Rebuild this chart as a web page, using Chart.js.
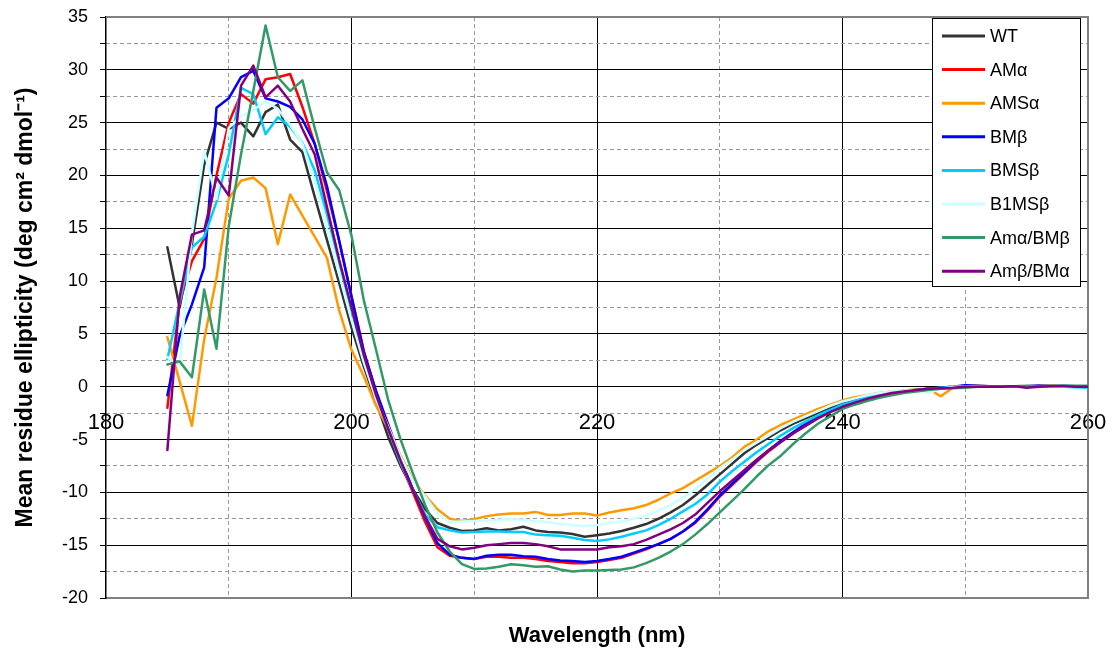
<!DOCTYPE html>
<html>
<head>
<meta charset="utf-8">
<script src="https://cdn.jsdelivr.net/npm/chart.js@4.4.1/dist/chart.umd.min.js"></script>
<style>
  html, body { margin: 0; padding: 0; background: #fff; }
  #wrap { width: 1115px; height: 655px; }
</style>
</head>
<body>
<div id="wrap"><canvas id="cdChart"></canvas></div>
<script>
const wavelength = [185, 186, 187, 188, 189, 190, 191, 192, 193, 194, 195, 196, 197, 198, 199, 200,
  201, 202, 203, 204, 205, 206, 207, 208, 209, 210, 211, 212, 213, 214, 215, 216, 217, 218, 219, 220,
  221, 222, 223, 224, 225, 226, 227, 228, 229, 230, 231, 232, 233, 234, 235, 236, 237, 238, 239, 240,
  241, 242, 243, 244, 245, 246, 247, 248, 249, 250, 251, 252, 253, 254, 255, 256, 257, 258, 259, 260];

const wt = [13.2, 7.5, 13.5, 21.0, 25.0, 24.4, 25.0, 23.7, 26.0, 26.7, 23.4, 22.2, 18.0, 13.9, 9.8, 5.6,
  1.9, -1.4, -4.8, -7.5, -9.7, -11.6, -12.9, -13.35, -13.65, -13.6, -13.4, -13.6, -13.5, -13.25, -13.6, -13.75, -13.8, -13.95, -14.2, -14.05,
  -13.9, -13.65, -13.35, -13.0, -12.5, -11.9, -11.2, -10.3, -9.3, -8.3, -7.3, -6.3, -5.5, -4.8, -4.1, -3.5, -3.0, -2.5, -2.0, -1.6,
  -1.3, -1.0, -0.75, -0.55, -0.4, -0.3, -0.2, -0.15, -0.1, 0.0, 0.05, 0.0, 0.05, 0.0, 0.05, 0.1, 0.05, 0.05, 0.0, 0.0];

const amAlpha = [-2.0, 8.0, 11.9, 14.0, 20.0, 25.0, 27.7, 26.8, 29.1, 29.3, 29.6, 26.5, 23.0, 18.5, 13.8, 8.6,
  3.4, -0.5, -4.0, -7.2, -10.0, -12.8, -15.2, -16.0, -16.2, -16.3, -16.1, -16.1, -16.2, -16.2, -16.3, -16.5, -16.6, -16.7, -16.7, -16.6,
  -16.4, -16.2, -15.8, -15.4, -14.9, -14.4, -13.7, -12.9, -11.7, -10.4, -9.3, -8.2, -7.1, -6.1, -5.2, -4.4, -3.6, -2.9, -2.3, -1.8,
  -1.4, -1.1, -0.8, -0.6, -0.4, -0.3, -0.2, -0.1, 0.0, 0.1, 0.05, 0.05, 0.0, 0.05, 0.0, 0.05, 0.1, 0.05, 0.0, 0.0];

const amsAlpha = [4.7, 0.5, -3.7, 4.5, 10.3, 17.8, 19.5, 19.8, 18.8, 13.5, 18.2, 16.2, 14.2, 12.2, 7.2, 3.5,
  1.0, -1.8, -4.0, -6.5, -8.8, -10.3, -11.6, -12.5, -12.7, -12.55, -12.25, -12.1, -12.0, -12.0, -11.85, -12.15, -12.15, -12.0, -12.0, -12.2,
  -11.9, -11.7, -11.5, -11.2, -10.7, -10.1, -9.6, -8.9, -8.2, -7.5, -6.7, -5.7, -5.0, -4.2, -3.6, -3.1, -2.6, -2.1, -1.7, -1.3,
  -1.0, -0.8, -0.6, -0.45, -0.35, -0.25, -0.2, -0.9, -0.1, 0.1, 0.1, 0.05, 0.0, 0.05, 0.05, 0.0, 0.05, 0.0, 0.0, 0.0];

const bmBeta = [-0.8, 4.8, 7.8, 11.3, 26.4, 27.3, 29.3, 29.9, 27.3, 27.0, 26.5, 25.3, 23.0, 19.0, 13.8, 8.5,
  3.3, -0.4, -3.6, -6.8, -9.7, -12.4, -14.8, -15.9, -16.2, -16.3, -16.0, -15.9, -15.9, -16.05, -16.1, -16.3, -16.45, -16.5, -16.6, -16.5,
  -16.3, -16.1, -15.7, -15.3, -14.9, -14.4, -13.7, -12.8, -11.6, -10.3, -9.2, -8.1, -7.0, -6.0, -5.1, -4.3, -3.5, -2.8, -2.2, -1.75,
  -1.35, -1.05, -0.8, -0.55, -0.4, -0.3, -0.2, -0.1, 0.0, 0.15, 0.1, 0.05, 0.05, 0.0, 0.05, 0.1, 0.05, 0.1, 0.05, 0.0];

const bmsBeta = [2.6, 8.0, 13.2, 14.2, 17.5, 22.0, 28.3, 27.7, 23.9, 25.5, 24.6, 23.1, 20.5, 16.3, 11.8, 7.2,
  2.8, -0.9, -4.0, -7.2, -9.8, -12.1, -13.3, -13.6, -13.8, -13.75, -13.7, -13.7, -13.75, -13.75, -14.0, -14.05, -14.1, -14.3, -14.5, -14.6,
  -14.45, -14.2, -13.9, -13.6, -13.1, -12.5, -11.8, -11.1, -10.2, -9.0, -8.0, -7.1, -6.2, -5.4, -4.6, -3.9, -3.3, -2.7, -2.2, -1.7,
  -1.35, -1.05, -0.75, -0.55, -0.4, -0.3, -0.2, -0.1, -0.05, 0.0, 0.05, 0.0, 0.05, 0.0, 0.0, 0.05, 0.0, 0.0, -0.05, -0.1];

const b1msBeta = [2.8, 2.0, 14.5, 22.3, 17.8, 24.5, 25.6, 26.2, 27.0, 26.3, 24.8, 23.0, 19.5, 15.0, 10.6, 6.3,
  2.3, -1.2, -3.8, -6.6, -8.9, -10.4, -12.0, -12.8, -12.75, -12.7, -12.7, -12.6, -12.55, -12.6, -12.7, -12.8, -13.0, -13.1, -13.2, -13.1,
  -12.9, -12.75, -12.5, -12.2, -11.7, -11.2, -10.5, -9.7, -8.7, -7.7, -6.9, -6.0, -5.3, -4.6, -3.9, -3.3, -2.8, -2.3, -1.8, -1.4,
  -1.1, -0.8, -0.6, -0.45, -0.35, -0.3, -0.6, -0.2, 0.0, 0.0, 0.05, 0.0, 0.0, 0.05, 0.0, 0.0, 0.05, 0.0, 0.0, 0.0];

const amAlphaBmBeta = [2.1, 2.4, 0.9, 9.2, 3.6, 15.2, 22.0, 28.0, 34.2, 29.3, 28.0, 29.0, 24.5, 20.3, 18.6, 14.3,
  8.2, 3.5, -1.3, -5.0, -8.2, -11.2, -13.8, -15.6, -16.8, -17.25, -17.2, -17.05, -16.8, -16.9, -17.05, -17.0, -17.3, -17.5, -17.4, -17.4,
  -17.35, -17.3, -17.1, -16.7, -16.2, -15.6, -14.9, -14.0, -13.0, -11.9, -10.8, -9.7, -8.5, -7.4, -6.5, -5.4, -4.4, -3.5, -2.8, -2.1,
  -1.7, -1.35, -1.05, -0.8, -0.6, -0.45, -0.3, -0.2, -0.15, -0.1, 0.0, 0.05, 0.05, 0.05, 0.1, 0.05, 0.1, 0.1, 0.1, 0.1];

const amBetaBmAlpha = [-6.0, 8.5, 14.4, 14.8, 19.8, 18.1, 28.5, 30.4, 27.4, 28.5, 27.0, 24.4, 22.0, 17.0, 12.0, 7.5,
  3.0, -0.8, -4.0, -7.0, -9.8, -12.3, -14.4, -15.1, -15.4, -15.25, -15.0, -14.9, -14.8, -14.8, -14.9, -15.1, -15.4, -15.4, -15.4, -15.4,
  -15.2, -15.1, -14.9, -14.5, -14.0, -13.5, -12.9, -12.1, -11.0, -9.9, -8.9, -7.9, -6.9, -6.0, -5.2, -4.4, -3.7, -3.0, -2.4, -1.9,
  -1.5, -1.15, -0.85, -0.6, -0.45, -0.3, -0.2, -0.15, -0.1, 0.0, 0.0, 0.0, 0.0, 0.05, -0.1, 0.0, 0.05, 0.05, 0.0, 0.0];

const seriesNames = ['WT', 'AMα', 'AMSα', 'BMβ', 'BMSβ', 'B1MSβ', 'Amα/BMβ', 'Amβ/BMα'];
const seriesValues = [wt, amAlpha, amsAlpha, bmBeta, bmsBeta, b1msBeta, amAlphaBmBeta, amBetaBmAlpha];
const seriesColors = ['#333333', '#ff0000', '#ff9900', '#0000ff', '#00ccff', '#ccffff', '#339966', '#800080'];

const xMajorTicks = [180, 200, 220, 240, 260];
const yMin = -20, yMax = 35;

const FONT = "'Liberation Sans', Arial, sans-serif";

// legend box drawn inside the plot, plus the grey top edge of the frame
const plotExtras = {
  id: 'plotExtras',
  beforeDatasetsDraw(chart) {
    const { ctx, chartArea } = chart;
    ctx.save();
    ctx.strokeStyle = '#808080';
    ctx.lineWidth = 2;
    ctx.beginPath();
    ctx.moveTo(chartArea.left, chartArea.top);
    ctx.lineTo(chartArea.right, chartArea.top);
    ctx.stroke();
    ctx.restore();
  },
  afterDatasetsDraw(chart) {
    const { ctx, chartArea } = chart;
    const boxX = chartArea.right - 156;
    const boxY = chartArea.top + 1;
    const boxW = 148, boxH = 268, rowH = 33.6;
    ctx.save();
    ctx.fillStyle = '#fff';
    ctx.fillRect(boxX, boxY, boxW, boxH);
    ctx.strokeStyle = '#000';
    ctx.lineWidth = 1;
    ctx.strokeRect(boxX + 0.5, boxY + 0.5, boxW, boxH);
    ctx.font = '18px ' + FONT;
    ctx.textBaseline = 'middle';
    ctx.fillStyle = '#000';
    chart.data.datasets.forEach((ds, i) => {
      const y = boxY + 18 + i * rowH;
      ctx.strokeStyle = ds.borderColor;
      ctx.lineWidth = 3;
      ctx.beginPath();
      ctx.moveTo(boxX + 10, y);
      ctx.lineTo(boxX + 53, y);
      ctx.stroke();
      ctx.fillText(ds.label, boxX + 58, y + 1);
    });
    ctx.restore();
  }
};

const ctx = document.getElementById('cdChart').getContext('2d');

new Chart(ctx, {
  type: 'line',
  data: {
    datasets: seriesNames.map((name, i) => ({
      label: name,
      data: wavelength.map((w, j) => ({ x: w, y: seriesValues[i][j] })),
      borderColor: seriesColors[i],
      backgroundColor: seriesColors[i],
      borderWidth: 2.5,
      borderJoinStyle: 'round',
      borderCapStyle: 'round',
      pointRadius: 0,
      tension: 0,
      fill: false,
      order: seriesNames.length - i
    }))
  },
  options: {
    responsive: true,
    maintainAspectRatio: false,
    animation: false,
    layout: { autoPadding: false, padding: { left: 0, right: 27, top: 17, bottom: 0 } },
    plugins: {
      legend: { display: false },
      tooltip: { enabled: false }
    },
    scales: {
      x: {
        type: 'linear',
        position: { y: 0 },
        min: 180,
        max: 260,
        afterBuildTicks: (scale) => { scale.ticks = xMajorTicks.map(v => ({ value: v })); },
        ticks: {
          autoSkip: false,
          maxRotation: 0,
          padding: 23,
          color: '#000',
          font: { family: FONT, size: 22 }
        },
        grid: {
          drawTicks: false,
          lineWidth: 1,
          color: (c) => (c.tick && (c.tick.value === 180 || c.tick.value === 260)) ? 'rgba(0,0,0,0)' : '#000'
        },
        border: { display: true, color: '#000', width: 1 },
        afterFit: (scale) => {
          scale.paddingLeft = 0;
          scale.paddingRight = 0;
          scale.paddingTop = 0;
          scale.paddingBottom = 0;
        }
      },
      x2: {
        type: 'linear',
        position: 'bottom',
        min: 180,
        max: 260,
        ticks: { display: false, stepSize: 10 },
        grid: {
          drawTicks: false,
          lineWidth: 1,
          color: (c) => (c.tick && c.tick.value % 20 !== 0) ? '#999999' : 'rgba(0,0,0,0)'
        },
        border: { display: true, color: '#808080', width: 2, dash: [4, 3] },
        title: {
          display: true,
          text: 'Wavelength (nm)',
          color: '#000',
          font: { family: FONT, size: 22, weight: 'bold' },
          padding: { top: 0, bottom: 6 }
        },
        afterFit: (scale) => { scale.height = 57; }
      },
      y: {
        type: 'linear',
        position: 'left',
        min: yMin,
        max: yMax,
        ticks: {
          stepSize: 2.5,
          autoSkip: false,
          padding: 12,
          color: '#000',
          font: { family: FONT, size: 18 },
          callback: (v) => (Math.abs(v % 5) < 1e-9 ? v : '')
        },
        grid: {
          drawTicks: true,
          tickLength: 6,
          tickColor: '#000',
          lineWidth: 1,
          color: (c) => {
            if (!c.tick) return 'rgba(0,0,0,0)';
            const v = c.tick.value;
            if (v === yMin || v === yMax) return 'rgba(0,0,0,0)';
            return Math.abs(v % 5) < 1e-9 ? '#000' : 'rgba(0,0,0,0)';
          }
        },
        border: { display: true, color: '#000', width: 1.5 },
        title: {
          display: true,
          text: 'Mean residue ellipticity (deg cm² dmol⁻¹)',
          color: '#000',
          font: { family: FONT, size: 23, weight: 'bold' },
          padding: { top: 12, bottom: 0 }
        },
        afterFit: (scale) => {
          scale.width = 106;
          scale.paddingTop = 0;
          scale.paddingBottom = 0;
        }
      },
      y2: {
        type: 'linear',
        position: 'right',
        min: yMin,
        max: yMax,
        ticks: { display: false, stepSize: 2.5 },
        grid: {
          drawTicks: false,
          lineWidth: 1,
          color: (c) => (c.tick && Math.abs(c.tick.value % 5) > 1e-9) ? '#999999' : 'rgba(0,0,0,0)'
        },
        border: { display: true, color: '#808080', width: 2, dash: [4, 3] },
        afterFit: (scale) => { scale.width = 0; }
      }
    }
  },
  plugins: [plotExtras]
});
</script>
</body>
</html>
